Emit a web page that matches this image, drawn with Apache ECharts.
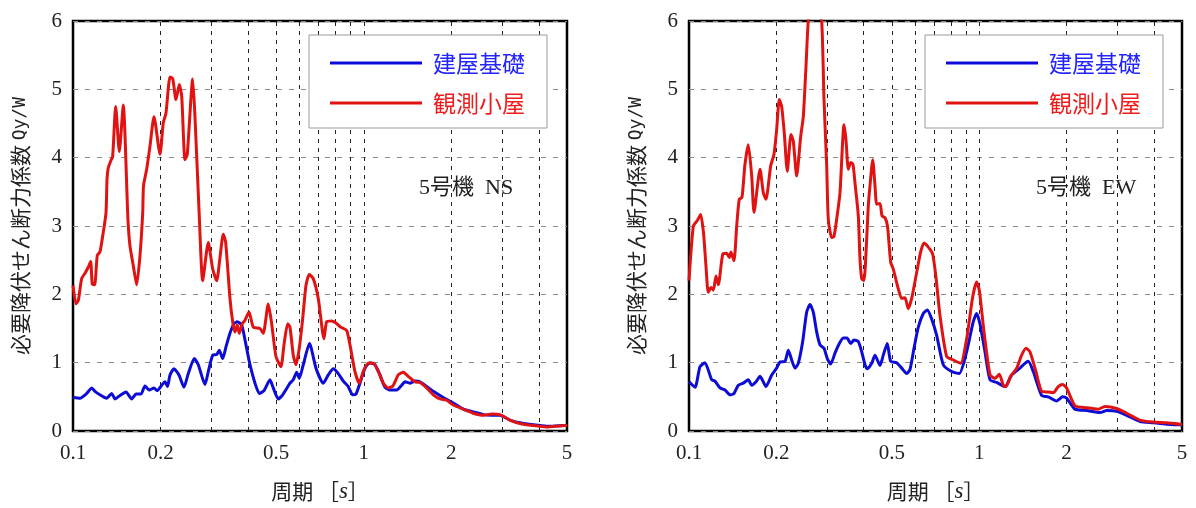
<!DOCTYPE html>
<html>
<head>
<meta charset="utf-8">
<script src="https://cdn.jsdelivr.net/npm/echarts@6/dist/echarts.min.js"></script>
<style>
  html, body { margin: 0; padding: 0; background: #fff; }
  #chart { width: 1196px; height: 508px; }
</style>
</head>
<body>
<div id="chart"></div>
<script>
// Required yield shear coefficient Qy/W versus period [s], unit No.5

// NS direction, building foundation (建屋基礎)
const nsBasePeriod = [0.100,0.1057,0.1115,0.1160,0.1190,0.1238,0.1306,0.1359,0.1395,0.1451,0.1521,0.1592,0.1647,0.1713,0.1768,0.1830,0.1899,0.1949,0.2019,0.2072,0.2113,0.2156,0.2225,0.2315,0.2408,0.2492,0.2613,0.2697,0.2844,0.2919,0.3023,0.3120,0.3185,0.3272,0.3358,0.3466,0.3578,0.3673,0.3803,0.3935,0.4061,0.4226,0.4372,0.4538,0.4758,0.4884,0.5082,0.5262,0.5574,0.5722,0.5879,0.6000,0.6194,0.6505,0.6850,0.7257,0.7550,0.7855,0.8172,0.8503,0.8846,0.9159,0.9402,0.9704,1.010,1.050,1.093,1.137,1.183,1.230,1.298,1.350,1.386,1.440,1.500,1.561,1.646,1.734,1.877,2.031,2.199,2.380,2.576,2.753,2.940,3.182,3.444,3.827,4.255,4.919,5.0];
const nsBase = [0.49,0.48,0.55,0.63,0.58,0.53,0.48,0.55,0.47,0.52,0.57,0.47,0.54,0.54,0.66,0.60,0.63,0.59,0.67,0.72,0.65,0.82,0.91,0.82,0.64,0.84,1.06,0.97,0.68,0.87,1.11,1.12,1.18,1.06,1.23,1.43,1.57,1.60,1.55,1.26,0.97,0.70,0.55,0.59,0.75,0.63,0.47,0.53,0.70,0.75,0.86,0.77,0.97,1.28,0.92,0.70,0.82,0.91,0.84,0.73,0.65,0.53,0.54,0.70,0.92,1.00,0.97,0.82,0.64,0.60,0.60,0.67,0.72,0.70,0.73,0.72,0.65,0.58,0.49,0.41,0.32,0.28,0.24,0.23,0.23,0.16,0.12,0.09,0.07,0.08,0.08];

// NS direction, observation hut (観測小屋)
const nsHutPeriod = [0.100,0.1024,0.1043,0.1071,0.1100,0.1129,0.1150,0.1165,0.1187,0.1212,0.1238,0.1271,0.1299,0.1309,0.1322,0.1348,0.1369,0.1402,0.1443,0.1489,0.1545,0.1570,0.1612,0.1656,0.1700,0.1737,0.1748,0.1792,0.1840,0.1899,0.1992,0.2044,0.2088,0.2156,0.2202,0.2261,0.2320,0.2365,0.2427,0.2472,0.2580,0.2627,0.2718,0.2793,0.2919,0.3023,0.3120,0.3203,0.3287,0.3350,0.3466,0.3541,0.3606,0.3673,0.3731,0.3821,0.3904,0.4029,0.4169,0.4396,0.4512,0.4695,0.4823,0.4990,0.5191,0.5316,0.5474,0.5574,0.5722,0.5846,0.6000,0.6164,0.6327,0.6495,0.6704,0.6975,0.7297,0.7455,0.7756,0.8024,0.8328,0.8734,0.8965,0.9327,0.9650,0.9960,1.036,1.078,1.122,1.167,1.214,1.260,1.314,1.367,1.422,1.500,1.561,1.646,1.734,1.828,1.928,2.031,2.199,2.380,2.576,2.753,2.940,3.182,3.444,3.827,4.255,4.919,5.0];
const nsHut = [2.13,1.86,1.91,2.23,2.31,2.40,2.48,2.15,2.14,2.57,2.62,2.91,3.20,3.68,3.85,3.95,4.02,4.75,4.09,4.77,3.10,2.71,2.42,2.14,2.57,3.20,3.59,3.83,4.17,4.60,4.05,4.51,4.65,5.18,5.16,4.85,5.07,4.90,3.97,4.05,5.15,4.60,3.15,2.20,2.76,2.37,2.20,2.54,2.88,2.76,1.94,1.60,1.45,1.55,1.43,1.57,1.62,1.74,1.52,1.50,1.43,1.86,1.57,1.09,0.94,1.26,1.57,1.52,1.11,0.97,1.21,1.64,2.13,2.29,2.23,1.94,1.35,1.60,1.61,1.58,1.52,1.47,1.26,0.87,0.70,0.87,0.99,0.99,0.87,0.70,0.63,0.66,0.82,0.86,0.80,0.72,0.71,0.63,0.53,0.47,0.45,0.38,0.32,0.26,0.23,0.25,0.24,0.16,0.11,0.08,0.06,0.08,0.08];

// EW direction, building foundation (建屋基礎)
const ewBasePeriod = [0.100,0.1049,0.1091,0.1135,0.1197,0.1229,0.1279,0.1331,0.1384,0.1429,0.1479,0.1539,0.1601,0.1645,0.1702,0.1757,0.1842,0.1928,0.2005,0.2059,0.2142,0.2199,0.2259,0.2319,0.2380,0.2465,0.2544,0.2612,0.2681,0.2754,0.2828,0.2919,0.2996,0.3078,0.3185,0.3296,0.3402,0.3503,0.3608,0.3703,0.3832,0.3937,0.4041,0.4115,0.4262,0.4375,0.4552,0.4672,0.4823,0.4955,0.5197,0.5407,0.5626,0.5775,0.5961,0.6169,0.6418,0.6624,0.6859,0.7138,0.7521,0.8040,0.8539,0.9055,0.9542,0.9803,1.006,1.047,1.090,1.149,1.227,1.294,1.382,1.438,1.477,1.536,1.642,1.730,1.850,1.940,2.002,2.138,2.347,2.608,2.750,2.977,3.223,3.582,3.980,4.427,4.920,5.0];
const ewBase = [0.72,0.64,0.94,1.00,0.75,0.73,0.63,0.60,0.53,0.55,0.67,0.70,0.75,0.67,0.72,0.80,0.65,0.82,0.92,1.01,1.02,1.18,1.04,0.92,0.99,1.31,1.74,1.85,1.74,1.45,1.26,1.21,1.06,0.98,1.14,1.28,1.36,1.36,1.28,1.33,1.31,1.16,0.97,0.91,0.99,1.11,0.96,1.11,1.28,1.02,1.00,0.92,0.84,0.90,1.21,1.52,1.72,1.77,1.64,1.40,0.97,0.87,0.84,1.16,1.60,1.72,1.57,1.16,0.75,0.71,0.65,0.82,0.92,0.99,1.02,0.87,0.52,0.50,0.44,0.50,0.48,0.32,0.30,0.27,0.30,0.29,0.23,0.14,0.12,0.10,0.09,0.09];

// EW direction, observation hut (観測小屋); the peak near 0.27 s runs off the top of the axis
const ewHutPeriod = [0.100,0.1035,0.1068,0.1097,0.1122,0.1144,0.1165,0.1191,0.1213,0.1239,0.1262,0.1307,0.1347,0.1377,0.1395,0.1429,0.1460,0.1490,0.1523,0.1559,0.1601,0.1645,0.1675,0.1757,0.1803,0.1842,0.1912,0.1963,0.2005,0.2047,0.2086,0.2130,0.2181,0.2246,0.2288,0.2350,0.2426,0.2477,0.2530,0.2581,0.2718,0.2866,0.2919,0.2982,0.3020,0.3102,0.3160,0.3228,0.3314,0.3421,0.3475,0.3540,0.3608,0.3674,0.3733,0.3832,0.3884,0.3937,0.4009,0.4096,0.4148,0.4205,0.4296,0.4375,0.4434,0.4552,0.4625,0.4736,0.4831,0.4955,0.5058,0.5263,0.5407,0.5550,0.5697,0.5853,0.6090,0.6286,0.6453,0.6677,0.6914,0.7098,0.7327,0.7727,0.8142,0.8634,0.9055,0.9497,0.9803,1.001,1.039,1.090,1.134,1.173,1.211,1.237,1.284,1.347,1.401,1.450,1.496,1.569,1.642,1.730,1.800,1.873,1.940,2.002,2.138,2.347,2.573,2.713,2.977,3.223,3.582,3.980,4.427,4.920,5.0];
const ewHut = [2.20,3.00,3.08,3.17,2.90,2.42,2.03,2.10,2.06,2.27,2.14,2.59,2.60,2.54,2.62,2.49,3.00,3.39,3.42,3.90,4.19,3.73,3.20,3.83,3.49,3.39,3.88,4.05,4.41,4.85,4.75,4.36,3.80,4.34,4.24,3.73,4.31,4.60,5.33,6.05,6.8,6.0,4.85,3.88,3.10,2.83,2.85,3.10,3.49,4.48,4.26,3.83,3.93,3.90,3.63,3.15,2.52,2.23,2.20,2.81,3.29,3.59,3.97,3.59,3.32,3.33,3.15,3.12,3.00,2.47,2.37,2.08,1.94,1.95,1.79,1.94,2.32,2.62,2.75,2.69,2.59,2.25,1.69,1.09,1.04,0.99,1.35,1.96,2.18,2.06,1.45,0.82,0.77,0.83,0.67,0.65,0.80,0.92,1.11,1.21,1.16,0.87,0.58,0.57,0.56,0.65,0.68,0.63,0.37,0.34,0.32,0.36,0.33,0.26,0.16,0.13,0.12,0.10,0.10];

// Axis ticks
const periodTickLabels = [0.1, 0.2, 0.5, 1, 2, 5];
const periodGridLines = [0.2, 0.3, 0.4, 0.5, 0.6, 0.7, 0.8, 0.9, 1, 2, 3, 4];
const coefMin = 0, coefMax = 6, coefStep = 1;

const seriesNames = ['建屋基礎', '観測小屋'];
const panelTitles = ['5号機  NS', '5号機  EW'];

const SERIF = '"Liberation Serif", "Times New Roman", serif';
const JP = '"Noto Sans CJK JP", sans-serif';
const BLUE = '#0c0cd6';
const RED = '#e01212';

function pairs(periods, values) {
  return periods.map((t, i) => [t, values[i]]);
}

const panels = [
  { base: pairs(nsBasePeriod, nsBase), hut: pairs(nsHutPeriod, nsHut),
    grid: { left: 73, right: 629, top: 21, bottom: 75 }, legendLeft: 309, titlePos: [419, 177] },
  { base: pairs(ewBasePeriod, ewBase), hut: pairs(ewHutPeriod, ewHut),
    grid: { left: 689, right: 14, top: 21, bottom: 75 }, legendLeft: 925, titlePos: [1036, 177] }
];

// vertical dashed grid lines plus the period labels under the frame, placed on the log axis
function periodMarks() {
  const lines = periodGridLines.map(p => ({
    xAxis: p,
    lineStyle: { color: '#222', type: [4, 5], width: 1 },
    label: { show: false }
  }));
  const labels = periodTickLabels.map(p => ({
    xAxis: p,
    lineStyle: { color: 'rgba(0,0,0,0)', width: 1 },
    label: {
      show: true, position: 'start', distance: 12, formatter: String(p),
      fontFamily: SERIF, fontSize: 21, color: '#222'
    }
  }));
  return {
    silent: true, symbol: ['none', 'none'], z: 1, animation: false,
    data: lines.concat(labels)
  };
}

const option = {
  animation: false,
  backgroundColor: '#fff',
  grid: panels.map(p => Object.assign({
    show: true, borderColor: '#000', borderWidth: 2.5, backgroundColor: 'transparent'
  }, p.grid)),
  xAxis: panels.map((p, i) => ({
    gridIndex: i, type: 'log', logBase: 10, min: 0.1, max: 5,
    axisLine: { show: false }, axisTick: { show: false },
    axisLabel: { show: false }, splitLine: { show: false },
    name: '周期 ［{i|s}］', nameLocation: 'middle', nameGap: 49,
    nameTextStyle: {
      fontFamily: JP, fontSize: 21, color: '#222',
      rich: { i: { fontFamily: SERIF, fontStyle: 'italic', fontSize: 23, color: '#222' } }
    }
  })),
  yAxis: panels.map((p, i) => ({
    gridIndex: i, type: 'value', min: coefMin, max: coefMax, interval: coefStep,
    axisLine: { show: false }, axisTick: { show: false },
    axisLabel: { fontFamily: SERIF, fontSize: 21, color: '#222', margin: 11 },
    splitLine: { lineStyle: { color: '#8c8c8c', type: [5, 7], width: 1 } },
    name: '必要降伏せん断力係数 {m|Qy/W}', nameLocation: 'middle', nameGap: 42,
    nameTextStyle: {
      fontFamily: JP, fontSize: 21, color: '#222',
      rich: { m: { fontFamily: '"DejaVu Sans Mono", monospace', fontSize: 18, color: '#222' } }
    }
  })),
  legend: panels.map(p => ({
    orient: 'vertical', left: p.legendLeft, top: 35,
    selectedMode: false, icon: 'rect',
    itemWidth: 92, itemHeight: 3, itemGap: 14,
    padding: [15, 22, 12, 21],
    borderColor: '#9a9a9a', borderWidth: 1, backgroundColor: '#fff',
    textStyle: { fontFamily: JP, fontSize: 23, lineHeight: 26, padding: [0, 0, 0, 6] },
    data: [
      { name: seriesNames[0], textStyle: { color: '#2424ff' } },
      { name: seriesNames[1], textStyle: { color: '#f01c1c' } }
    ]
  })),
  graphic: panels.map((p, i) => ({
    type: 'text', left: p.titlePos[0], top: p.titlePos[1],
    style: { text: panelTitles[i], font: '22px "Liberation Serif", "Noto Sans CJK JP"', fill: '#222' }
  })),
  series: []
};

panels.forEach((p, i) => {
  option.series.push({
    name: seriesNames[0], type: 'line', xAxisIndex: i, yAxisIndex: i,
    data: p.base, symbol: 'none', smooth: 0.2,
    lineStyle: { color: BLUE, width: 3 }, itemStyle: { color: BLUE },
    z: 3, markLine: periodMarks()
  });
  option.series.push({
    name: seriesNames[1], type: 'line', xAxisIndex: i, yAxisIndex: i,
    data: p.hut, symbol: 'none', smooth: 0.2, clip: true,
    lineStyle: { color: RED, width: 3 }, itemStyle: { color: RED },
    z: 4
  });
});

const chart = echarts.init(document.getElementById('chart'), null, { renderer: 'canvas' });
chart.setOption(option);
</script>
</body>
</html>
